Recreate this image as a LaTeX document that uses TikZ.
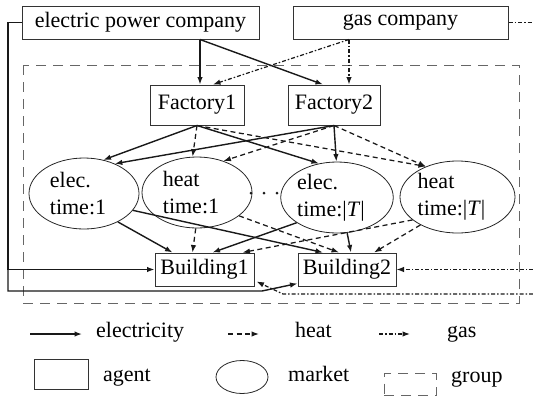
\documentclass[tikz,border=0pt]{standalone}
\usepackage{fontspec}
\setmainfont{Liberation Serif}
\usetikzlibrary{arrows.meta,calc,shapes.geometric}

% two-line market label, nudged a little to the left inside the ellipse
\newcommand\mktlabel[2]{#1\\#2\hspace*{12pt}}

\begin{document}
\begin{tikzpicture}[x=1pt,y=-1pt,
  font=\fontsize{22}{27}\selectfont,
  agent/.style={draw=black!80, line width=1pt, rectangle, inner sep=0pt},
  mkt/.style={draw=black!85, line width=0.8pt, ellipse, inner sep=0pt,
    minimum width=110pt, minimum height=71pt, align=left},
  tip/.style={-{Latex[length=7.5pt,width=5.5pt]}},
  elec/.style={tip, line width=1.4pt, draw=black!90},
  heatl/.style={tip, line width=1.25pt, draw=black!90, dash pattern=on 5pt off 3.5pt},
  gasl/.style={tip, line width=1.2pt, draw=black!90, dash pattern=on 4pt off 2pt on 1.5pt off 2pt},
  grp/.style={draw=black!60, line width=1pt, dash pattern=on 10pt off 7pt},
  lgtext/.style={anchor=base west, inner sep=0pt},
]
\useasboundingbox (0,0) rectangle (533,397);

% group frame
\draw[grp] (23,65) rectangle (519,303);

% agents
\node[agent, minimum width=237pt, minimum height=33pt] (epc) at (140.5,22.5) {electric power company};
\node[agent, minimum width=215pt, minimum height=33pt] (gas) at (400.5,22.5) {gas company};
\node[agent, minimum width=94pt, minimum height=40pt] (f1) at (197,105) {Factory1};
\node[agent, minimum width=92pt, minimum height=40pt] (f2) at (334,105) {Factory2};
\node[agent, minimum width=99pt, minimum height=33pt] (b1) at (204.5,269.5) {Building1};
\node[agent, minimum width=98pt, minimum height=33pt] (b2) at (347,269.5) {Building2};

% markets
\node[mkt] (e1) at (84,193.5) {\mktlabel{elec.}{time:1}};
\node[mkt] (h1) at (197,192.5) {\mktlabel{heat}{time:1}};
\node[mkt, minimum width=112pt] (eT) at (337,197.5) {\mktlabel{elec.}{time:|\textit{T}|}};
\node[mkt, minimum width=115pt, minimum height=72pt] (hT) at (457.5,197) {\mktlabel{heat}{time:|\textit{T}|}};

% ellipsis between the markets
\fill[black!90] (251,193) circle (1.5pt) (264,193) circle (1.5pt) (277,193) circle (1.5pt);

% helper points
\coordinate (epcout) at ([xshift=59.5pt]epc.south);
\coordinate (gasout) at ([xshift=-51.5pt]gas.south);
\coordinate (rail) at (8,0);
\coordinate (redge) at (533,0);
\coordinate (railend) at (8,291);
\coordinate (ebend) at (262,291);
\coordinate (gbend) at (283,294);

% suppliers to factories
\draw[elec] (epcout) -- ([xshift=3pt]f1.north);
\draw[elec] (epcout) -- ([xshift=-11pt]f2.north);
\draw[gasl] (gasout) -- ([xshift=15pt]f2.north);
\draw[gasl] (gasout) -- ([xshift=16pt]f1.north);
\draw[gasl, -] (gas.east) -- (gas.east -| redge);

% factories to markets
\draw[elec] (f1.south) -- (e1.60);
\draw[heatl] (f1.south) -- (h1.97);
\draw[elec] (f1.south) -- (eT.118);
\draw[heatl] (f1.south) -- (hT.136);
\draw[elec] (f2.south) -- (e1.44);
\draw[heatl] (f2.south) -- (h1.50);
\draw[elec] (f2.south) -- (eT.91);
\draw[heatl] (f2.south) -- (hT.136);

% markets to buildings
\draw[elec] (e1.-40) -- ([xshift=-32pt]b1.north);
\draw[elec] (e1.-19) -- ([xshift=-24pt]b2.north);
\draw[heatl] (h1.-92) -- ([xshift=-12pt]b1.north);
\draw[heatl] (h1.-29) -- ([xshift=-8pt]b2.north);
\draw[elec] (eT.-148) -- ([xshift=8pt]b1.north);
\draw[elec] (eT.-74) -- ([xshift=4pt]b2.north);
\draw[heatl] (hT.-153) -- ([xshift=38pt]b1.north);
\draw[heatl] (hT.-143) -- ([xshift=27pt]b2.north);

% direct supply to the buildings
\draw[elec] (epc.west) -| (rail |- b1.west) -- (b1.west);
\draw[elec] (rail |- b1.west) -- (railend) -- (ebend) -- ([yshift=3pt]b2.south west);
\draw[gasl] (b2.east -| redge) -- (b2.east);
\draw[gasl] (redge |- gbend) -- (gbend) -- ([xshift=2pt,yshift=5pt]b1.south east);

% legend
\coordinate (le0) at (30,334);  \coordinate (le1) at (82,334);
\coordinate (lh0) at (228,334); \coordinate (lh1) at (259,334);
\coordinate (lg0) at (379,334); \coordinate (lg1) at (410,334);
\draw[elec] (le0) -- (le1);
\draw[heatl] (lh0) -- (lh1);
\draw[gasl] (lg0) -- (lg1);
\node[lgtext] (lelec) at (96,337) {electricity};
\node[lgtext] (lheat) at (295,337) {heat};
\node[lgtext] (lgas) at (447,337) {gas};
\node[agent, minimum width=54pt, minimum height=30pt] (lagent) at (61,374) {};
\node[mkt, minimum width=52pt, minimum height=33pt] (lmkt) at (242,377) {};
\node[grp, rectangle, inner sep=0pt, minimum width=52pt, minimum height=22pt] (lgrp) at (410,384.5) {};
\node[lgtext] (tagent) at (103,381) {agent};
\node[lgtext] (tmkt) at (288,381) {market};
\node[lgtext] (tgrp) at (451,382) {group};
\end{tikzpicture}
\end{document}
